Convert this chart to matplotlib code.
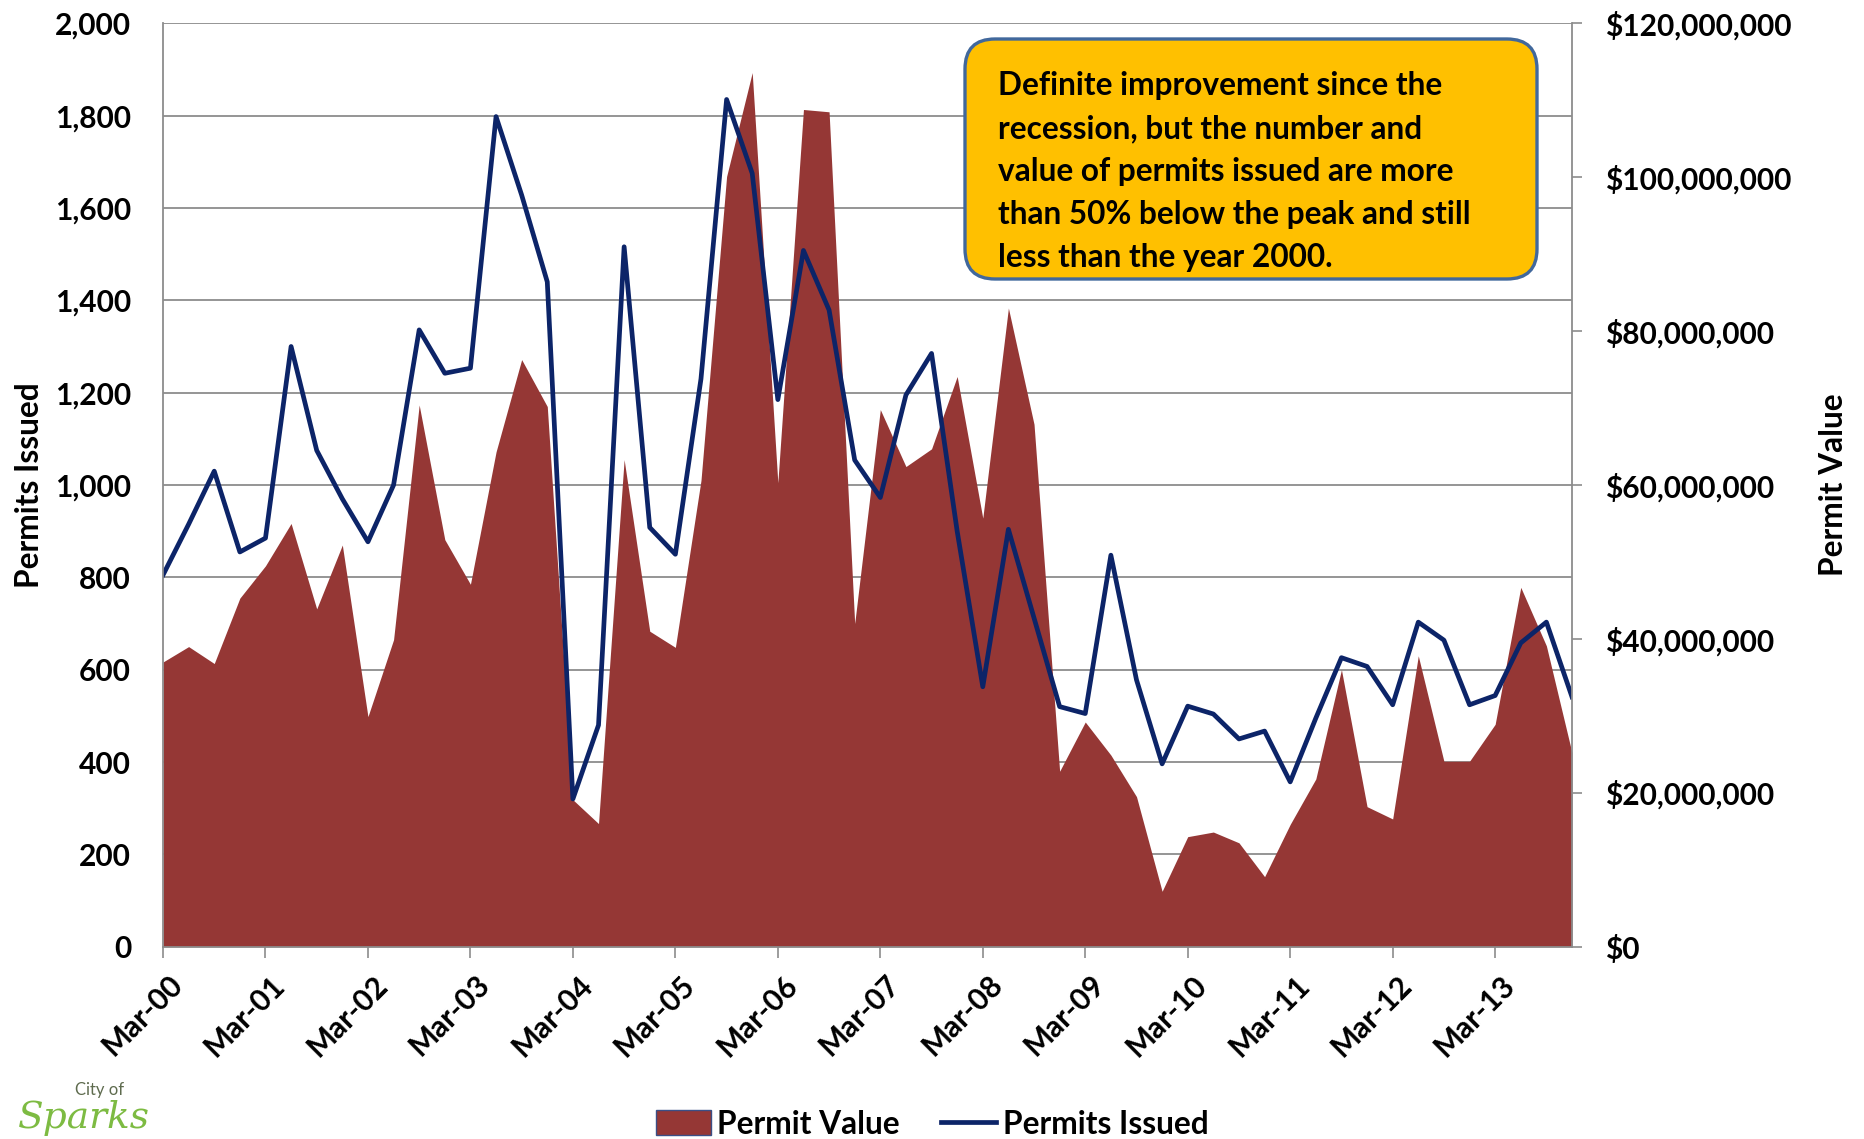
import matplotlib
matplotlib.use("Agg")
import matplotlib.pyplot as plt
import matplotlib.transforms as mtransforms
import numpy as np
from matplotlib.lines import Line2D
from matplotlib.patches import FancyBboxPatch, Patch
from matplotlib.ticker import FuncFormatter, MultipleLocator

# quarterly building permits, Mar-00 .. Dec-13
permits_issued = [
    805, 915, 1030, 855, 885, 1300, 1075, 970,
    877, 1000, 1336, 1242, 1253, 1798, 1628, 1440,
    320, 480, 1516, 908, 850, 1230, 1835, 1675,
    1185, 1508, 1379, 1054, 973, 1195, 1285, 900,
    563, 904, 712, 520, 505, 848, 578, 396,
    521, 504, 450, 467, 357, 495, 626, 607,
    524, 703, 664, 524, 544, 658, 703, 541,
]

# permit value in millions of dollars
permit_value_m = [
    37.0, 39.0, 36.8, 45.3, 49.5, 55.0, 43.9, 52.2,
    29.9, 39.9, 70.4, 52.9, 47.1, 64.3, 76.3, 70.2,
    19.1, 16.0, 63.3, 41.0, 38.9, 60.6, 100.1, 113.6,
    60.3, 108.8, 108.5, 42.0, 69.8, 62.4, 64.7, 74.1,
    55.7, 83.0, 67.9, 22.8, 29.2, 24.9, 19.5, 7.2,
    14.3, 14.9, 13.5, 9.1, 15.9, 21.8, 36.0, 18.2,
    16.6, 37.8, 24.1, 24.1, 28.9, 46.7, 39.1, 25.2,
]

year_labels = [
    "Mar-00", "Mar-01", "Mar-02", "Mar-03", "Mar-04", "Mar-05", "Mar-06",
    "Mar-07", "Mar-08", "Mar-09", "Mar-10", "Mar-11", "Mar-12", "Mar-13",
]

note = ("Definite improvement since the\n"
        "recession, but the number and\n"
        "value of permits issued are more\n"
        "than 50% below the peak and still\n"
        "less than the year 2000.")

AREA = "#953735"
LINE = "#0C2468"
GRID = "#8C8C8C"
FS = 21.5
FS_BIG = 22.8

plt.rcParams["font.family"] = ["Lato", "DejaVu Sans"]
plt.rcParams["font.weight"] = "bold"
plt.rcParams["axes.labelweight"] = "bold"

x = np.arange(len(permits_issued))
permit_value = np.array(permit_value_m) * 1e6

fig = plt.figure(figsize=(18.64, 11.39), dpi=100)
ax = fig.add_axes([0.08745, 0.16883, 0.7559, 0.8107])
ax2 = ax.twinx()

ax.set_xlim(0, len(x) - 1)
ax.set_ylim(0, 2000)
ax2.set_ylim(0, 120e6)

# area sits on the dollar scale but is drawn in ax so the gridlines stay behind it
ax.fill_between(x, permit_value, 0, transform=ax2.transData,
                color=AREA, linewidth=0, zorder=1)
ax.plot(x, permits_issued, color=LINE, lw=3.4, zorder=2)

ax.set_axisbelow(True)
ax.grid(axis="y", color=GRID, lw=1.3)
ax.yaxis.set_major_locator(MultipleLocator(200))
ax.yaxis.set_major_formatter(FuncFormatter(lambda v, p: f"{v:,.0f}"))
ax.tick_params(axis="y", length=0, pad=23, labelsize=FS)

ax.set_xticks(x[::4])
ax.set_xticklabels(year_labels, rotation=45, ha="right", va="top",
                   rotation_mode="anchor")
ax.tick_params(axis="x", direction="out", length=8, width=1.2, color=GRID,
               pad=9, labelsize=FS)
shift = mtransforms.ScaledTranslation(5 / 100, 0, fig.dpi_scale_trans)
for lbl in ax.get_xticklabels():
    lbl.set_transform(lbl.get_transform() + shift)

ax2.yaxis.set_major_locator(MultipleLocator(20e6))
ax2.yaxis.set_major_formatter(FuncFormatter(lambda v, p: f"${v:,.0f}"))
ax2.tick_params(axis="y", direction="out", length=7, width=1.2, color=GRID,
                pad=17, labelsize=FS)

for s in ("top", "right"):
    ax.spines[s].set_visible(False)
for s in ("top", "left", "bottom"):
    ax2.spines[s].set_visible(False)
for sp in (ax.spines["left"], ax.spines["bottom"], ax2.spines["right"]):
    sp.set_color(GRID)
    sp.set_linewidth(1.3)

ax.set_ylabel("Permits Issued", fontsize=FS_BIG)
ax.yaxis.set_label_coords(-0.0848, 0.5)
ax2.set_ylabel("Permit Value", fontsize=FS_BIG)
ax2.yaxis.set_label_coords(1.1755, 0.5)

# callout box
box = FancyBboxPatch((9.65, 8.60), 5.72, 2.40, boxstyle="round,pad=0,rounding_size=0.3",
                     transform=fig.dpi_scale_trans, facecolor="#FFC000",
                     edgecolor="#41689C", lw=2.4, zorder=5)
fig.add_artist(box)
fig.text(9.98, 10.68, note, transform=fig.dpi_scale_trans, ha="left", va="top",
         fontsize=FS_BIG, linespacing=1.58, color="black", zorder=6)

legend_handles = [
    Patch(facecolor=AREA, edgecolor="#3B4F86", lw=1),
    Line2D([], [], color=LINE, lw=3.4),
]
fig.legend(legend_handles, ["Permit Value", "Permits Issued"], loc="center",
           bbox_to_anchor=(0.5, 1 - 1124 / 1139), ncol=2, frameon=False,
           fontsize=FS_BIG, handlelength=1.75, handleheight=0.8, handletextpad=0.2,
           columnspacing=1.3)

# city logo in the corner
fig.text(0.0095, 0.003, "Sparks", fontsize=27, color="#7DBB42",
         family=["DejaVu Serif"], style="italic", fontweight="normal",
         ha="left", va="bottom")
fig.text(0.040, 1 - 1090 / 1139, "City of", fontsize=12, color="#5E6B4E",
         fontweight="normal", ha="left", va="center")

fig.savefig("out.png", dpi=100)
